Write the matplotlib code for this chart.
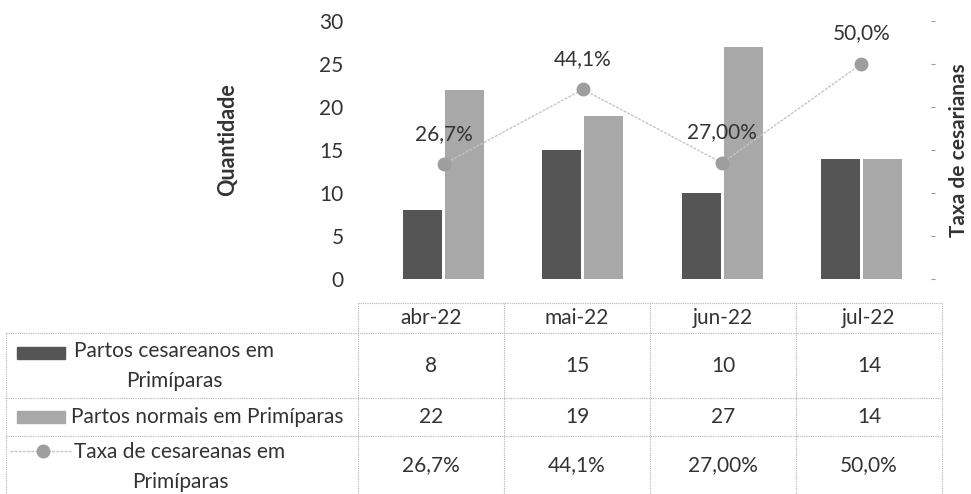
import numpy as np
import matplotlib.pyplot as plt
from matplotlib.lines import Line2D
from matplotlib.patches import Rectangle

# Dados do gráfico
meses = ['abr-22', 'mai-22', 'jun-22', 'jul-22']
cesareos = [8, 15, 10, 14]
normais = [22, 19, 27, 14]
taxa = [0.267, 0.441, 0.27, 0.50]
taxa_txt = ['26,7%', '44,1%', '27,00%', '50,0%']

series_nomes = ['Partos cesareanos em\nPrimíparas',
                'Partos normais em Primíparas',
                'Taxa de cesareanas em\nPrimíparas']

cor_escura = '#555555'
cor_clara = '#a8a8a8'
cor_linha = '#c4c4c4'
cor_ponto = '#9e9e9e'
cor_texto = '#333333'

plt.rcParams['font.family'] = ['Lato', 'DejaVu Sans']

W, H = 971, 494
fig = plt.figure(figsize=(W / 100, H / 100), dpi=100)

def fx(px):
    return px / W

def fy(py):
    return 1 - py / H

# Área do gráfico (em pixels)
x0, x1 = 374, 931
y_top, y_bot = 21, 279
ax = fig.add_axes([fx(x0), fy(y_bot), fx(x1 - x0), (y_bot - y_top) / H])

x = np.arange(len(meses))
larg = 0.28
ax.bar(x - 0.151, cesareos, width=larg, color=cor_escura, zorder=2)
ax.bar(x + 0.151, normais, width=larg, color=cor_clara, zorder=2)

ax.set_xlim(-0.5, len(meses) - 0.5)
ax.set_ylim(0, 30)
ax.set_yticks(np.arange(0, 31, 5))
ax.set_xticks([])
ax.tick_params(axis='y', length=0, pad=22, labelsize=15, labelcolor=cor_texto)
for s in ax.spines.values():
    s.set_visible(False)

# Eixo secundário (taxa)
ax2 = ax.twinx()
ax2.set_ylim(0, 0.6)
ax2.set_yticks(np.arange(0, 0.61, 0.1))
ax2.set_yticklabels([])
ax2.tick_params(axis='y', length=3, width=0.8, color='#999999', direction='out')
for s in ax2.spines.values():
    s.set_visible(False)
ax2.plot(x, taxa, color=cor_linha, lw=1, ls=(0, (2, 1)), zorder=3)
ax2.plot(x, taxa, 'o', color=cor_ponto, ms=9, zorder=4)
for xi, t, lab in zip(x, taxa, taxa_txt):
    ax2.annotate(lab, (xi, t), xytext=(0, 22), textcoords='offset points',
                 ha='center', va='center', fontsize=15, color=cor_texto, zorder=5)

# títulos dos eixos
fig.text(fx(228), fy(140), 'Quantidade', rotation=90, ha='center', va='center',
         fontsize=15.5, fontweight='bold', color=cor_texto)
fig.text(fx(959), fy(150), 'Taxa de cesarianas', rotation=90, ha='center',
         va='center', fontsize=15, fontweight='bold', color=cor_texto)

# Tabela de dados abaixo do gráfico
col_left = 358
col_w = 146
n = len(meses)
tab_right = col_left + col_w * n
rows = [303, 333, 398, 436, 494]  # limites horizontais
tab_left = 6
lkw = dict(color='#b5b5b5', lw=0.8, ls=(0, (1, 1)))

# linhas horizontais
fig.add_artist(Line2D([fx(col_left), fx(tab_right)], [fy(rows[0])] * 2, **lkw))
for r in rows[1:4]:
    fig.add_artist(Line2D([fx(tab_left), fx(tab_right)], [fy(r)] * 2, **lkw))
# linhas verticais
fig.add_artist(Line2D([fx(tab_left)] * 2, [fy(rows[1]), fy(rows[4])], **lkw))
for i in range(n + 1):
    xc = col_left + i * col_w
    fig.add_artist(Line2D([fx(xc)] * 2, [fy(rows[0]), fy(rows[4])], **lkw))

# cabeçalho
for i, m in enumerate(meses):
    fig.text(fx(col_left + (i + 0.5) * col_w), fy((rows[0] + rows[1]) / 2), m,
             ha='center', va='center', fontsize=15, color=cor_texto)

valores = [[str(v) for v in cesareos], [str(v) for v in normais], taxa_txt]
for r, linha in enumerate(valores):
    yc = fy((rows[r + 1] + rows[r + 2]) / 2)
    for i, v in enumerate(linha):
        fig.text(fx(col_left + (i + 0.5) * col_w), yc, v,
                 ha='center', va='center', fontsize=15, color=cor_texto)

# rótulos das séries com chave de legenda
text_cx = [174, 207, 180]
text_cy = [366, 417, 467]
for r, nome in enumerate(series_nomes):
    fig.text(fx(text_cx[r]), fy(text_cy[r]), nome, ha='center', va='center',
             multialignment='center', fontsize=15, color=cor_texto,
             linespacing=1.6)

# chaves
y_k1 = 353
y_k2 = 417
y_k3 = 451
fig.add_artist(Rectangle((fx(17), fy(y_k1 + 6)), fx(48), 12 / H, color=cor_escura))
fig.add_artist(Rectangle((fx(17), fy(y_k2 + 6)), fx(48), 12 / H, color=cor_clara))
fig.add_artist(Line2D([fx(10), fx(72)], [fy(y_k3)] * 2, color=cor_linha, lw=1,
                      ls=(0, (2, 1))))
fig.add_artist(Line2D([fx(43)], [fy(y_k3)], marker='o', color=cor_ponto, ms=9))

fig.savefig('out.png', dpi=100)
